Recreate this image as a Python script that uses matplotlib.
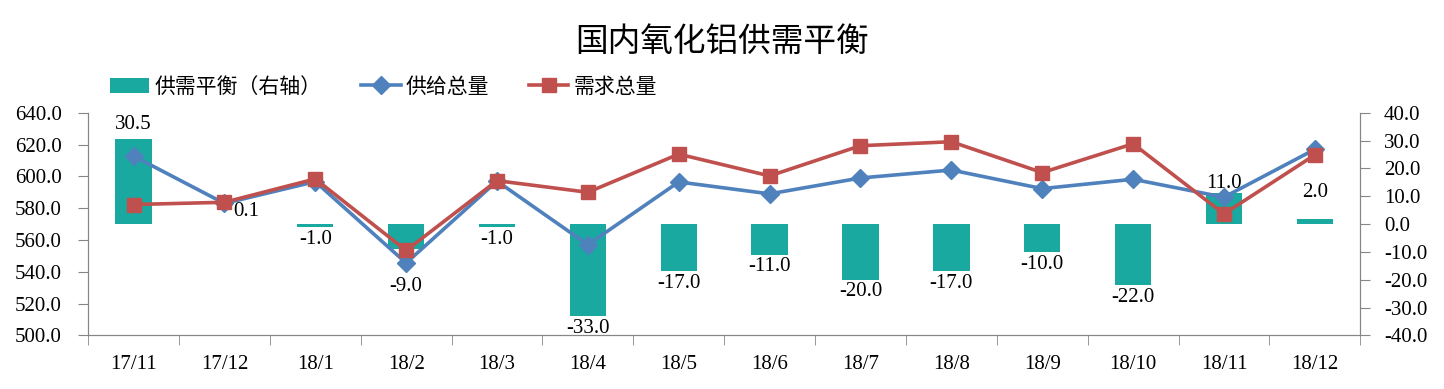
import numpy as np
import matplotlib.pyplot as plt
from matplotlib.ticker import FixedLocator, NullFormatter

plt.rcParams['font.family'] = ['Liberation Serif', 'Noto Sans CJK SC']

months = ["17/11", "17/12", "18/1", "18/2", "18/3", "18/4", "18/5",
          "18/6", "18/7", "18/8", "18/9", "18/10", "18/11", "18/12"]
balance = [30.5, 0.1, -1.0, -9.0, -1.0, -33.0, -17.0, -11.0, -20.0, -17.0,
           -10.0, -22.0, 11.0, 2.0]
supply = [612.8, 583.0, 596.7, 545.5, 597.0, 557.0, 596.5, 589.0, 599.0,
          604.0, 592.3, 598.2, 586.9, 617.0]
demand = [582.3, 583.7, 598.4, 553.4, 597.3, 590.0, 614.0, 600.3, 619.3,
          621.8, 602.4, 620.5, 576.4, 613.5]

teal = "#1AA9A0"
blue = "#4F81BD"
red = "#C0504D"
gray = "#868686"
cjk = ["Noto Sans CJK SC", "DejaVu Sans"]

fig = plt.figure(figsize=(14.44, 3.89), dpi=100)
ax = fig.add_axes([0.061, 0.138, 0.881, 0.572])
ax2 = ax.twinx()
x = np.arange(len(months))

bars = ax2.bar(x, balance, width=0.4, color=teal, label="供需平衡（右轴）")

l1, = ax.plot(x, supply, color=blue, lw=2.6, marker="D", ms=9, label="供给总量")
l2, = ax.plot(x, demand, color=red, lw=2.6, marker="s", ms=10, label="需求总量")

# data labels drawn on top of the lines (Excel moved a few of them by hand)
shift = {0: (0, -2), 1: (16, -4), 3: (0, -18), 12: (0, -6), 13: (0, 6)}
for i, v in enumerate(balance):
    dx, dy = shift.get(i, (0, 0))
    if v >= 0:
        ax.annotate(f"{v:.1f}", (x[i], v), xycoords=ax2.transData,
                    xytext=(dx, 6 + dy), textcoords="offset points",
                    ha="center", va="bottom", fontsize=15, zorder=5)
    else:
        ax.annotate(f"{v:.1f}", (x[i], v), xycoords=ax2.transData,
                    xytext=(dx, -2 + dy), textcoords="offset points",
                    ha="center", va="top", fontsize=15, zorder=5)

ax.set_zorder(ax2.get_zorder() + 1)
ax.patch.set_visible(False)

ax.set_xlim(-0.5, len(months) - 0.5)
ax.set_ylim(500, 640)
ax.set_yticks(np.arange(500, 641, 20))
ax.set_yticklabels([f"{t:.1f}" for t in np.arange(500, 641, 20)])
ax2.set_ylim(-40, 40)
ax2.set_yticks(np.arange(-40, 41, 10))
ax2.set_yticklabels([f"{t:.1f}" for t in np.arange(-40, 41, 10)])

ax.set_xticks(x)
ax.set_xticklabels(months)
ax.xaxis.set_minor_locator(FixedLocator(np.arange(-0.5, len(months), 1)))
ax.xaxis.set_minor_formatter(NullFormatter())
ax.tick_params(axis="x", which="major", length=0, pad=14, labelsize=15)
ax.tick_params(axis="x", which="minor", length=7, color=gray, direction="out")
ax.tick_params(axis="y", length=7, color=gray, labelsize=15, pad=12)
ax2.tick_params(axis="y", length=7, color=gray, labelsize=15, pad=10)

for a in (ax, ax2):
    a.spines["top"].set_visible(False)
    for s in ("left", "right", "bottom"):
        a.spines[s].set_color(gray)

fig.text(0.5, 0.893, "国内氧化铝供需平衡", ha="center", va="center",
         fontsize=23.5, family=cjk)
fig.legend([bars, l1, l2], ["供需平衡（右轴）", "供给总量", "需求总量"],
           loc="center left", bbox_to_anchor=(0.073, 0.777), ncol=3, frameon=False,
           prop={"family": cjk, "size": 15}, handlelength=1.9, columnspacing=1.9,
           handletextpad=0.25, borderaxespad=0, borderpad=0.2)

fig.savefig("out.png", dpi=100)
